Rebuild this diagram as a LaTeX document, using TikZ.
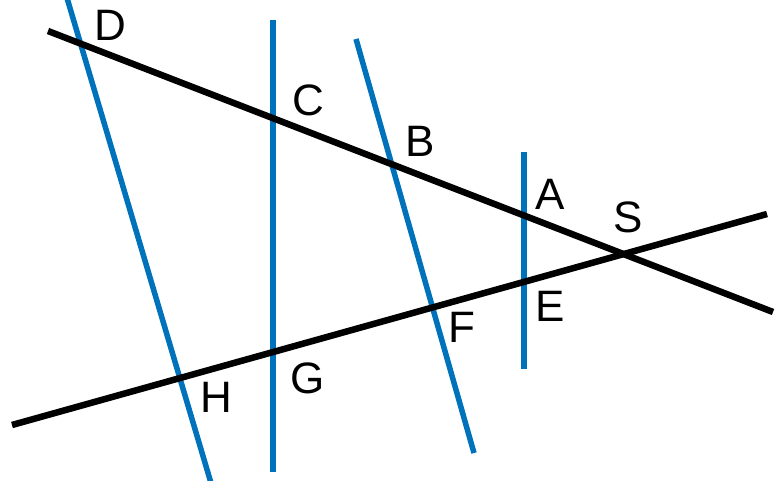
\documentclass[tikz,border=0pt]{standalone}
\usepackage{fontspec}
\setmainfont{Liberation Sans}
\definecolor{lineblue}{RGB}{0,114,188}
\begin{document}
\begin{tikzpicture}[x=1pt,y=-1pt,
  blackline/.style={black,line width=6.5pt},
  blueline/.style={lineblue,line width=5.5pt},
  lbl/.style={inner sep=0pt,font=\fontsize{44}{50}\selectfont}]
\useasboundingbox (0,0) rectangle (783,481);
% endpoints
\coordinate (L1a) at (48,31);
\coordinate (L1b) at (773,312);
\coordinate (L2a) at (12,425);
\coordinate (L2b) at (767,214);
\coordinate (DHa) at (67,-2);
\coordinate (DHb) at (211,483);
\coordinate (CGa) at (273,20);
\coordinate (CGb) at (273,472);
\coordinate (BFa) at (356,39);
\coordinate (BFb) at (474,453);
\coordinate (AEa) at (524,152);
\coordinate (AEb) at (524,369);
% blue lines
\draw[blueline] (DHa) -- (DHb);
\draw[blueline] (CGa) -- (CGb);
\draw[blueline] (BFa) -- (BFb);
\draw[blueline] (AEa) -- (AEb);
% black lines
\draw[blackline] (L1a) -- (L1b);
\draw[blackline] (L2a) -- (L2b);
% labels
\node[lbl] (D) at (110,25) {D};
\node[lbl] (C) at (308,100) {C};
\node[lbl] (B) at (420,141) {B};
\node[lbl] (A) at (550,194) {A};
\node[lbl] (S) at (628,217) {S};
\node[lbl] (E) at (550,306) {E};
\node[lbl] (F) at (462,327) {F};
\node[lbl] (G) at (308,378) {G};
\node[lbl] (H) at (216,397) {H};
\end{tikzpicture}
\end{document}
